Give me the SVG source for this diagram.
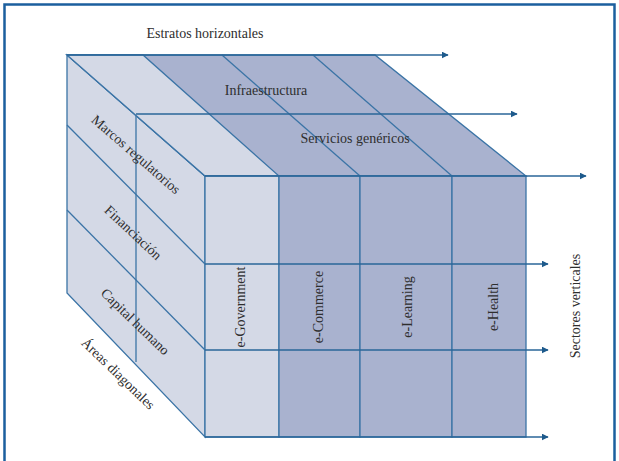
<svg xmlns="http://www.w3.org/2000/svg" width="619" height="461" viewBox="0 0 619 461">
<defs>
<marker id="ah" viewBox="0 0 10 10" refX="9" refY="5" markerWidth="7" markerHeight="7" markerUnits="userSpaceOnUse" orient="auto">
<path d="M0,0 L10,5 L0,10 z" fill="#1d5a8c"/>
</marker>
<style>
.light{fill:#d4d9e6;stroke:#3b74a6;stroke-width:1.3}
.dark{fill:#a9b2cf;stroke:#3b74a6;stroke-width:1.3}
.ln{fill:none;stroke:#3b74a6;stroke-width:1.3}
.arr{fill:none;stroke:#2a6698;stroke-width:1.4;marker-end:url(#ah)}
.t{font-family:"Liberation Serif","Times New Roman",serif;font-size:14px;fill:#2e2e2e}
</style>
</defs>
<rect x="0" y="0" width="619" height="461" fill="#ffffff"/>
<rect x="4.5" y="4.5" width="610" height="480" fill="none" stroke="#1b5f9e" stroke-width="2.5"/>

<g id="left-face">
<polygon class="light" points="67,55 205,176 205,437 67,293"/>
<line class="ln" x1="67" y1="125" x2="205" y2="264"/>
<line class="ln" x1="67" y1="210" x2="205" y2="350"/>
<line class="ln" x1="136" y1="114" x2="136" y2="362"/>
</g>

<g id="top-face">
<polygon class="dark" points="67,55 375,55 526,176 205,176"/>
<polygon class="light" points="67,55 143,55 279,176 205,176"/>
<line class="ln" x1="222" y1="55" x2="360" y2="176"/>
<line class="ln" x1="313" y1="55" x2="452" y2="176"/>
</g>

<g id="e-government">
<rect class="light" x="205" y="176" width="74" height="261"/>
<text class="t" transform="translate(245,307) rotate(-90)" text-anchor="middle">e-Government</text>
</g>
<g id="e-commerce">
<rect class="dark" x="279" y="176" width="81" height="261"/>
<text class="t" transform="translate(323,307) rotate(-90)" text-anchor="middle">e-Commerce</text>
</g>
<g id="e-learning">
<rect class="dark" x="360" y="176" width="92" height="261"/>
<text class="t" transform="translate(412,307) rotate(-90)" text-anchor="middle">e-Learning</text>
</g>
<g id="e-health">
<rect class="dark" x="452" y="176" width="74" height="261"/>
<text class="t" transform="translate(498,307) rotate(-90)" text-anchor="middle">e-Health</text>
</g>

<g id="connectors">
<line class="arr" x1="67" y1="55" x2="448" y2="55"/>
<line class="arr" x1="136" y1="114" x2="517" y2="114"/>
<line class="arr" x1="205" y1="176" x2="586" y2="176"/>
<line class="arr" x1="205" y1="264" x2="548" y2="264"/>
<line class="arr" x1="205" y1="350" x2="548" y2="350"/>
<line class="arr" x1="205" y1="437" x2="548" y2="437"/>
</g>

<g id="labels">
<text class="t" x="205" y="38" text-anchor="middle">Estratos horizontales</text>
<text class="t" x="266" y="95" text-anchor="middle">Infraestructura</text>
<text class="t" x="355" y="143" text-anchor="middle">Servicios genéricos</text>
<text class="t" transform="translate(133,158) rotate(41)" text-anchor="middle">Marcos regulatorios</text>
<text class="t" transform="translate(130,236) rotate(43)" text-anchor="middle">Financiación</text>
<text class="t" transform="translate(132,325) rotate(44)" text-anchor="middle">Capital humano</text>
<text class="t" transform="translate(115,377) rotate(44)" text-anchor="middle">Áreas diagonales</text>
<text class="t" transform="translate(580,306) rotate(-90)" text-anchor="middle">Sectores verticales</text>
</g>
</svg>
